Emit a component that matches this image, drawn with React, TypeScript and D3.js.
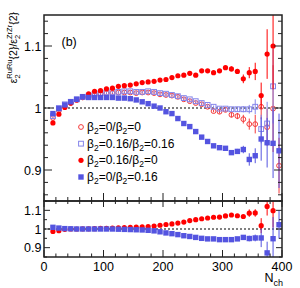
import React from "react";
import * as d3 from "d3";

// bin centres in N_ch
const nch = [15, 25, 35, 45, 55, 65, 75, 85, 95, 105, 115, 125, 135, 145, 155, 165, 175, 185, 195, 205,
  215, 225, 235, 245, 255, 265, 275, 285, 295, 305, 315, 325, 335, 345, 355, 365, 375, 385, 395];

// upper panel
const upperRedOpen = [0.984, 0.996, 1.003, 1.008, 1.013, 1.017, 1.019, 1.021, 1.023, 1.024,
  1.024, 1.025, 1.025, 1.025, 1.024, 1.025, 1.025, 1.024, 1.022, 1.021,
  1.020, 1.018, 1.014, 1.011, 1.008, 1.006, 1.002, 0.995, 0.994, 0.997,
  0.989, 0.987, 0.982, 0.974, 0.974, 1.002, 0.969, 0.999, 0.907];
const upperRedOpenErr = [0.002, 0.002, 0.002, 0.002, 0.002, 0.002, 0.002, 0.002, 0.002, 0.002,
  0.002, 0.002, 0.002, 0.002, 0.002, 0.002, 0.002, 0.002, 0.002, 0.002,
  0.002, 0.002, 0.002, 0.002, 0.002, 0.002, 0.002, 0.002, 0.003, 0.003,
  0.004, 0.005, 0.007, 0.009, 0.015, 0.020, 0.030, 0.070, 0.045];

const upperBlueOpen = [0.987, 1.000, 1.006, 1.010, 1.014, 1.018, 1.020, 1.022, 1.024, 1.025,
  1.026, 1.026, 1.027, 1.027, 1.026, 1.026, 1.027, 1.026, 1.024, 1.023,
  1.021, 1.019, 1.016, 1.014, 1.011, 1.008, 1.005, 1.002, 0.999, 0.999,
  0.998, 0.998, 0.998, 0.998, 1.002, 0.966, 0.975, 1.035];
const upperBlueOpenErr = [0.002, 0.002, 0.002, 0.002, 0.002, 0.002, 0.002, 0.002, 0.002, 0.002,
  0.002, 0.002, 0.002, 0.002, 0.002, 0.002, 0.002, 0.002, 0.002, 0.002,
  0.002, 0.002, 0.002, 0.002, 0.002, 0.002, 0.002, 0.002, 0.002, 0.002,
  0.003, 0.004, 0.005, 0.007, 0.012, 0.023, 0.035, 0.060];

const upperRedFilled = [0.976, 0.990, 1.001, 1.008, 1.013, 1.018, 1.023, 1.027, 1.028, 1.031,
  1.032, 1.035, 1.036, 1.037, 1.039, 1.041, 1.042, 1.043, 1.045, 1.046,
  1.049, 1.052, 1.053, 1.056, 1.053, 1.060, 1.060, 1.057, 1.060, 1.065,
  1.063, 1.059, 1.047, 1.057, 1.059, 1.020, 1.087, 1.100];
const upperRedFilledErr = [0.002, 0.002, 0.002, 0.002, 0.002, 0.002, 0.002, 0.002, 0.002, 0.002,
  0.002, 0.002, 0.002, 0.002, 0.002, 0.002, 0.002, 0.002, 0.002, 0.002,
  0.002, 0.002, 0.002, 0.002, 0.002, 0.002, 0.002, 0.002, 0.003, 0.003,
  0.004, 0.004, 0.007, 0.009, 0.014, 0.021, 0.040, 0.070];

const upperBlueFilled = [0.991, 0.999, 1.005, 1.010, 1.014, 1.018, 1.017, 1.017, 1.017, 1.017,
  1.017, 1.016, 1.016, 1.015, 1.013, 1.010, 1.007, 1.003, 1.000, 0.994,
  0.991, 0.983, 0.975, 0.970, 0.962, 0.953, 0.946, 0.939, 0.936, 0.935,
  0.928, 0.930, 0.933, 0.917, 0.923, 0.950, 0.944, 0.943, 0.931];
const upperBlueFilledErr = [0.002, 0.002, 0.002, 0.002, 0.002, 0.002, 0.002, 0.002, 0.002, 0.002,
  0.002, 0.002, 0.002, 0.002, 0.002, 0.002, 0.002, 0.002, 0.002, 0.002,
  0.002, 0.002, 0.002, 0.002, 0.002, 0.002, 0.002, 0.002, 0.002, 0.002,
  0.003, 0.004, 0.006, 0.010, 0.012, 0.035, 0.040, 0.056, 0.060];

// lower panel
const lowerRed = [0.987, 0.991, 0.998, 1.000, 1.000, 1.001, 1.001, 1.002, 1.003, 1.004,
  1.005, 1.006, 1.007, 1.009, 1.010, 1.011, 1.013, 1.016, 1.020, 1.024,
  1.027, 1.032, 1.037, 1.045, 1.050, 1.055, 1.059, 1.063, 1.064, 1.070,
  1.075, 1.071, 1.067, 1.085, 1.086, 1.018, 1.121, 1.098];
const lowerRedErr = [0.002, 0.002, 0.002, 0.002, 0.002, 0.002, 0.002, 0.002, 0.002, 0.002,
  0.002, 0.002, 0.002, 0.002, 0.002, 0.002, 0.002, 0.002, 0.002, 0.002,
  0.002, 0.002, 0.002, 0.002, 0.002, 0.002, 0.002, 0.002, 0.002, 0.002,
  0.002, 0.002, 0.002, 0.020, 0.020, 0.040, 0.049, 0.090];

const lowerBlue = [1.009, 1.005, 1.002, 1.001, 1.000, 1.000, 1.000, 1.000, 1.000, 1.000,
  1.000, 0.999, 0.998, 0.997, 0.996, 0.995, 0.993, 0.990, 0.985, 0.979,
  0.975, 0.970, 0.964, 0.960, 0.955, 0.950, 0.947, 0.947, 0.943, 0.943,
  0.943, 0.947, 0.955, 0.949, 0.952, 0.952, 0.872, 0.948, 1.023];
const lowerBlueErr = [0.002, 0.002, 0.002, 0.002, 0.002, 0.002, 0.002, 0.002, 0.002, 0.002,
  0.002, 0.002, 0.002, 0.002, 0.002, 0.002, 0.002, 0.002, 0.002, 0.002,
  0.002, 0.002, 0.002, 0.002, 0.002, 0.002, 0.002, 0.002, 0.002, 0.002,
  0.002, 0.002, 0.006, 0.015, 0.018, 0.049, 0.060, 0.116, 0.075];

// axis ticks
const xMajor = [0, 100, 200, 300, 400];
const xMinor = [20, 40, 60, 80, 120, 140, 160, 180, 220, 240, 260, 280, 320, 340, 360, 380];
const yMajor = [0.9, 1.0, 1.1];
const yLabels = ["0.9", "1", "1.1"];
const yMinorUp = [0.86, 0.88, 0.92, 0.94, 0.96, 0.98, 1.02, 1.04, 1.06, 1.08, 1.12, 1.14];
const yMinorLo = [0.85, 0.95, 1.05, 1.15];

// legend: beta2 of Ru / beta2 of Zr
const legendRu = ["0", "0.16", "0.16", "0"];
const legendZr = ["0", "0.16", "0", "0.16"];

const RED = "#ff0000";
const RED_OPEN = "#f53a3a";
const BLUE = "#5454e0";
const BLUE_OPEN = "#8585ea";
const FONT = "'Liberation Sans', Arial, Helvetica, sans-serif";

const left = 44, right = 282;
const upTop = 15, upBot = 201, loBot = 257;

const x = d3.scaleLinear().domain([0, 400]).range([left, right]);
const yUp = d3.scaleLinear().domain([0.85, 1.15]).range([upBot, upTop]);
const yLo = d3.scaleLinear().domain([0.85, 1.15]).range([loBot, upBot]);

type Kind = "oc" | "os" | "fc" | "fs";

function Marker({ kind, cx, cy, color }: { kind: Kind; cx: number; cy: number; color: string }) {
  if (kind === "fc") return <circle cx={cx} cy={cy} r={2.6} fill={color} />;
  if (kind === "oc") return <circle cx={cx} cy={cy} r={2.4} fill="none" stroke={color} strokeWidth={1} />;
  if (kind === "fs") return <rect x={cx - 2.7} y={cy - 2.7} width={5.4} height={5.4} fill={color} />;
  return <rect x={cx - 2.4} y={cy - 2.4} width={4.8} height={4.8} fill="none" stroke={color} strokeWidth={1} />;
}

function Series({ values, errors, y, kind, color, clip }: any) {
  return (
    <g clipPath={`url(#${clip})`}>
      {values.map((v: number, i: number) => (
        <line key={"e" + i} x1={x(nch[i])} x2={x(nch[i])} y1={y(v - errors[i])} y2={y(v + errors[i])}
          stroke={color} strokeWidth={1} />
      ))}
      {values.map((v: number, i: number) => (
        <Marker key={"m" + i} kind={kind} cx={x(nch[i])} cy={y(v)} color={color} />
      ))}
    </g>
  );
}

function YTicks({ y, minor, maj, mnr }: any) {
  const segs: JSX.Element[] = [];
  yMajor.forEach((v, i) => {
    segs.push(<line key={"l" + i} x1={left} x2={left + maj} y1={y(v)} y2={y(v)} />);
    segs.push(<line key={"r" + i} x1={right} x2={right - maj} y1={y(v)} y2={y(v)} />);
  });
  minor.forEach((v: number, i: number) => {
    segs.push(<line key={"ml" + i} x1={left} x2={left + mnr} y1={y(v)} y2={y(v)} />);
    segs.push(<line key={"mr" + i} x1={right} x2={right - mnr} y1={y(v)} y2={y(v)} />);
  });
  return <g stroke="#222" strokeWidth={1}>{segs}</g>;
}

function XTicks({ y0, dir, maj, mnr }: any) {
  return (
    <g stroke="#222" strokeWidth={1}>
      {xMajor.map((v) => <line key={"a" + v} x1={x(v)} x2={x(v)} y1={y0} y2={y0 + dir * maj} />)}
      {xMinor.map((v) => <line key={"b" + v} x1={x(v)} x2={x(v)} y1={y0} y2={y0 + dir * mnr} />)}
    </g>
  );
}

function Beta({ ru, zr, ...rest }: any) {
  return (
    <text {...rest}>
      β<tspan fontSize={8.5} dy={3}>2</tspan>
      <tspan dy={-3}>={ru}/β</tspan>
      <tspan fontSize={8.5} dy={3}>2</tspan>
      <tspan dy={-3}>={zr}</tspan>
    </text>
  );
}

export default function App() {
  const legendKinds: Kind[] = ["oc", "os", "fc", "fs"];
  const legendColors = [RED_OPEN, BLUE_OPEN, RED, BLUE];
  const legendY = d3.scaleLinear().domain([0, 3]).range([127, 177]);

  return (
    <svg width={300} height={288} style={{ position: "absolute", left: 0, top: 0 }}
      fontFamily={FONT}>
      <defs>
        <clipPath id="clipUp"><rect x={left} y={upTop} width={right - left} height={upBot - upTop} /></clipPath>
        <clipPath id="clipLo"><rect x={left} y={upBot} width={right - left} height={loBot - upBot} /></clipPath>
      </defs>
      <rect width={300} height={288} fill="#fff" />

      {/* reference lines at unity */}
      <line x1={left} x2={right} y1={yUp(1)} y2={yUp(1)} stroke="#000" strokeWidth={1} strokeDasharray="2,2" />
      <line x1={left} x2={right} y1={yLo(1)} y2={yLo(1)} stroke="#000" strokeWidth={1} strokeDasharray="2,2" />

      <Series values={upperRedOpen} errors={upperRedOpenErr} y={yUp} kind="oc" color={RED_OPEN} clip="clipUp" />
      <Series values={upperBlueOpen} errors={upperBlueOpenErr} y={yUp} kind="os" color={BLUE_OPEN} clip="clipUp" />
      <Series values={upperRedFilled} errors={upperRedFilledErr} y={yUp} kind="fc" color={RED} clip="clipUp" />
      <Series values={upperBlueFilled} errors={upperBlueFilledErr} y={yUp} kind="fs" color={BLUE} clip="clipUp" />

      <Series values={lowerRed} errors={lowerRedErr} y={yLo} kind="fc" color={RED} clip="clipLo" />
      <Series values={lowerBlue} errors={lowerBlueErr} y={yLo} kind="fs" color={BLUE} clip="clipLo" />

      {/* frames */}
      <rect x={left} y={upTop} width={right - left} height={upBot - upTop} fill="none" stroke="#222" strokeWidth={1.5} />
      <rect x={left} y={upBot} width={right - left} height={loBot - upBot} fill="none" stroke="#222" strokeWidth={1.5} />

      <YTicks y={yUp} minor={yMinorUp} maj={8} mnr={4} />
      <YTicks y={yLo} minor={yMinorLo} maj={6} mnr={3} />
      <XTicks y0={upBot} dir={-1} maj={8} mnr={4} />
      <XTicks y0={upBot} dir={1} maj={6} mnr={3} />
      <XTicks y0={loBot} dir={-1} maj={7} mnr={3.5} />

      {/* tick labels */}
      <g fontSize={12.5} textAnchor="end" fill="#000">
        {yMajor.map((v, i) => <text key={"u" + i} x={41.5} y={yUp(v)} dy="0.36em">{yLabels[i]}</text>)}
        {yMajor.map((v, i) => <text key={"d" + i} x={41.5} y={yLo(v)} dy="0.36em">{yLabels[i]}</text>)}
      </g>
      <g fontSize={12.5} textAnchor="middle" fill="#000">
        {xMajor.map((v) => <text key={v} x={x(v)} y={271}>{v}</text>)}
      </g>

      {/* axis titles */}
      <text x={283} y={282} textAnchor="end" fontSize={12.5}>
        N<tspan fontSize={9} dy={3.5}>ch</tspan>
      </text>
      <text transform="translate(17,12) rotate(-90)" textAnchor="end" fontSize={10.5}>
        ε<tspan fontSize={7.5} dy={2.5}>2</tspan>
        <tspan fontSize={7.5} dx={-4.2} dy={-7.5}>RuRu</tspan>
        <tspan dy={5}>{"{2}/ε"}</tspan>
        <tspan fontSize={7.5} dy={2.5}>2</tspan>
        <tspan fontSize={7.5} dx={-4.2} dy={-7.5}>ZrZr</tspan>
        <tspan dy={5}>{"{2}"}</tspan>
      </text>

      <text x={61.5} y={46} fontSize={12.5}>(b)</text>

      {/* legend */}
      {legendKinds.map((k, i) => (
        <g key={k}>
          <Marker kind={k} cx={81} cy={legendY(i)} color={legendColors[i]} />
          <Beta ru={legendRu[i]} zr={legendZr[i]} x={87} y={legendY(i) + 4} fontSize={12} />
        </g>
      ))}
    </svg>
  );
}
